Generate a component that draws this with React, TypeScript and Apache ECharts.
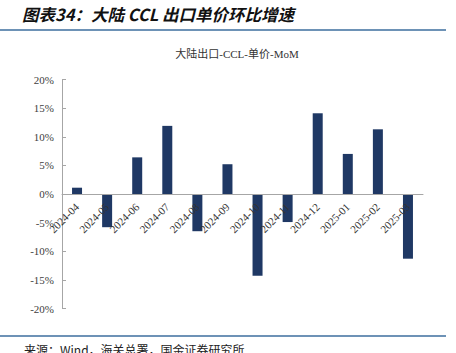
import React, { useEffect, useRef } from "react";
import * as echarts from "echarts";

const categories = ["2024-04", "2024-05", "2024-06", "2024-07", "2024-08", "2024-09", "2024-10", "2024-11", "2024-12", "2025-01", "2025-02", "2025-03"];
const momValues = [1.1, -5.8, 6.4, 11.9, -6.5, 5.2, -14.3, -4.9, 14.1, 7.0, 11.3, -11.3];
const seriesName = "大陆出口-CCL-单价-MoM";
const headerTitle = "图表34：大陆 CCL 出口单价环比增速";
const sourceText = "来源：Wind，海关总署，国金证券研究所";

const serif = "'Liberation Serif', 'DejaVu Serif', 'Noto Sans CJK SC', serif";
const cjk = "'Noto Sans CJK SC', sans-serif";

const gridTop = 79.5;
const gridBottom = 44.5;
const gridHeight = 353 - gridTop - gridBottom;

export default function App() {
  const ref = useRef<HTMLDivElement>(null);
  useEffect(() => {
    if (!ref.current) return;
    const chart = echarts.init(ref.current, undefined, { renderer: "svg" });
    chart.setOption({
      animation: false,
      backgroundColor: "#ffffff",
      title: [
        {
          text: headerTitle,
          left: 17,
          top: 1,
          textStyle: { fontFamily: cjk, fontSize: 16.5, fontWeight: "bold", fontStyle: "italic", color: "#111111" },
        },
        {
          text: seriesName,
          left: 232,
          textAlign: "center",
          top: 43,
          textStyle: { fontFamily: serif, fontSize: 11, fontWeight: "normal", color: "#333333" },
        },
        {
          text: sourceText,
          left: 19,
          top: 338,
          textStyle: { fontFamily: cjk, fontSize: 12, fontWeight: "normal", color: "#222222" },
        },
      ],
      grid: { left: 62, right: 33, top: gridTop, bottom: gridBottom, containLabel: false },
      xAxis: {
        type: "category",
        data: categories,
        position: "bottom",
        offset: -gridHeight / 2,
        z: 10,
        axisLine: { onZero: false, lineStyle: { color: "#a6a6a6" } },
        axisTick: { inside: true, length: 4, alignWithLabel: false, lineStyle: { color: "#a6a6a6" } },
        axisLabel: { rotate: 45, fontFamily: serif, fontSize: 11, color: "#333333", margin: 11, interval: 0 },
        splitLine: { show: false },
      },
      yAxis: {
        type: "value",
        min: -20,
        max: 20,
        interval: 5,
        axisLine: { show: true, lineStyle: { color: "#a6a6a6" } },
        axisTick: { show: true, inside: true, length: 4, lineStyle: { color: "#a6a6a6" } },
        axisLabel: { formatter: "{value}%", fontFamily: serif, fontSize: 11, color: "#404040", margin: 8 },
        splitLine: { show: false },
      },
      series: [
        {
          name: seriesName,
          type: "bar",
          data: momValues,
          barWidth: 10,
          z: 2,
          itemStyle: { color: "#1f3864" },
        },
      ],
      graphic: [
        {
          type: "line",
          shape: { x1: 0, y1: 30, x2: 446, y2: 30 },
          style: { stroke: "#3c6e9e", lineWidth: 1.5 },
        },
        {
          type: "line",
          shape: { x1: 0, y1: 336, x2: 446, y2: 336 },
          style: { stroke: "#3c6e9e", lineWidth: 1.5 },
        },
      ],
    });
    return () => chart.dispose();
  }, []);
  return (
    <div
      ref={ref}
      style={{ position: "fixed", left: 0, top: 0, width: 456, height: 353 }}
    />
  );
}
